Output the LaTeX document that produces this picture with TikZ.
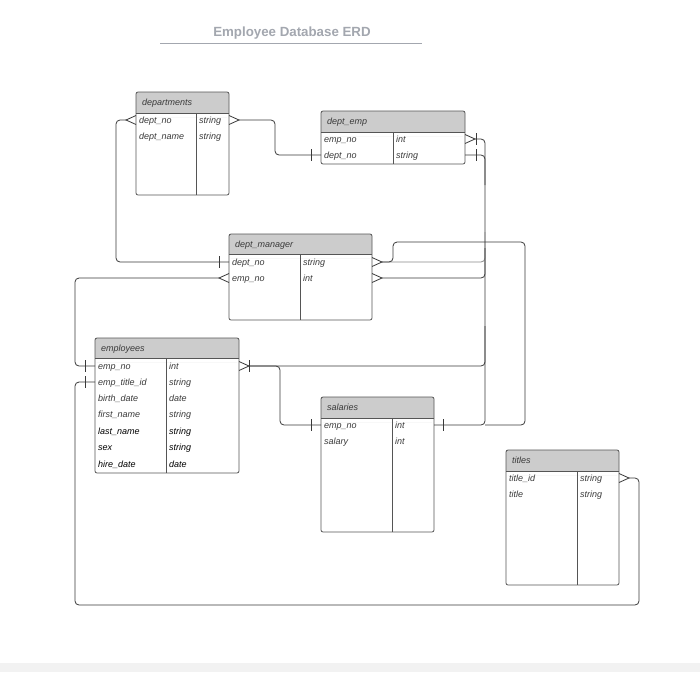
\documentclass[tikz,border=0pt]{standalone}
\usepackage{fontspec}
\setmainfont{Liberation Sans}
\usetikzlibrary{fit,calc}
\definecolor{hdr}{HTML}{CCCCCC}
\definecolor{bord}{HTML}{555555}
\definecolor{ink}{HTML}{3A3A3A}
\definecolor{ttl}{HTML}{A3A7AF}
\definecolor{lgray}{HTML}{8A8A8A}
\newcommand\erdtable[8]{%
  \fill[hdr, rounded corners=2pt] (#2,#3) rectangle (#4,{#6+4});
  \fill[white] (#2,#6) rectangle (#4,{#6+4});
  \node[tbl, fit={(#2,#3) (#4,#5)}] (#1) {};
  \draw[tline] (#2,#6) -- (#4,#6) (#7,#6) -- (#7,#5);
  \node[fld] (#1-h) at ({#2+6},{(#3+#6)/2}) {#8};
}
\newcommand\erdrow[8][fld]{%
  \node[#1] (#2-f#3) at ({#4+3},#6) {#7};
  \node[#1] (#2-t#3) at ({#5+3},#6) {#8};
}
\newcommand\crowR[1]{\draw[crowl] ($(#1)+(0,-4.5)$) -- ($(#1)+(10,0)$) -- ($(#1)+(0,4.5)$);}
\newcommand\crowL[1]{\draw[crowl] ($(#1)+(0,-4.5)$) -- ($(#1)+(-10,0)$) -- ($(#1)+(0,4.5)$);}
\newcommand\barV[2]{\draw[crowl] ($(#1)+(#2,-6)$) -- ($(#1)+(#2,6)$);}
\begin{document}
\begin{tikzpicture}[x=1pt,y=-1pt,
  tbl/.style={draw=bord, line width=0.8pt, rounded corners=2pt, inner sep=0pt, outer sep=0pt},
  tline/.style={draw=bord, line width=0.8pt},
  fld/.style={font=\fontsize{9}{10}\selectfont\itshape, text=ink, inner sep=0pt, anchor=west, text height=7.6pt, text depth=1pt},
  fldk/.style={fld, text=black},
  conn/.style={draw=ink, line width=0.8pt, rounded corners=4pt},
  connl/.style={conn, draw=lgray},
  crowl/.style={draw=ink, line width=0.8pt},
]
\useasboundingbox (0,0) rectangle (700,672);
\fill[white] (0,0) rectangle (700,672);
\fill[black!5] (0,663) rectangle (700,672);

% title
\node[font=\bfseries\fontsize{13.3}{15}\selectfont, text=ttl] (title) at (292,33) {Employee Database ERD};
\coordinate (tl) at (160,43);
\coordinate (tr) at (422,43);
\draw[ttl, line width=0.8pt] (tl) -- (tr);

% tables
\erdtable{departments}{136}{92}{229}{195}{113}{196}{departments}
\erdrow{departments}{1}{136}{196}{120}{dept\_no}{string}
\erdrow{departments}{2}{136}{196}{136}{dept\_name}{string}

\erdtable{deptemp}{321}{111}{465}{164}{132}{393}{dept\_emp}
\erdrow{deptemp}{1}{321}{393}{139}{emp\_no}{int}
\erdrow{deptemp}{2}{321}{393}{155}{dept\_no}{string}

\erdtable{deptmanager}{229}{234}{372}{320}{254}{300}{dept\_manager}
\erdrow{deptmanager}{1}{229}{300}{262}{dept\_no}{string}
\erdrow{deptmanager}{2}{229}{300}{278}{emp\_no}{int}

\erdtable{employees}{95}{338}{239}{473}{358}{166}{employees}
\erdrow{employees}{1}{95}{166}{366}{emp\_no}{int}
\erdrow{employees}{2}{95}{166}{382}{emp\_title\_id}{string}
\erdrow{employees}{3}{95}{166}{398}{birth\_date}{date}
\erdrow{employees}{4}{95}{166}{414}{first\_name}{string}
\erdrow[fldk]{employees}{5}{95}{166}{431}{last\_name}{string}
\erdrow[fldk]{employees}{6}{95}{166}{447}{sex}{string}
\erdrow[fldk]{employees}{7}{95}{166}{464}{hire\_date}{date}

\erdtable{salaries}{321}{397}{434}{532}{418}{392}{salaries}
\erdrow{salaries}{1}{321}{392}{425}{emp\_no}{int}
\erdrow{salaries}{2}{321}{392}{441}{salary}{int}

\erdtable{titles}{506}{450}{619}{585}{471}{577}{titles}
\erdrow{titles}{1}{506}{577}{478}{title\_id}{string}
\erdrow{titles}{2}{506}{577}{494}{title}{string}

% attachment points
\coordinate (dpR) at (departments.east |- 0,120);
\coordinate (dpL) at (departments.west |- 0,120);
\coordinate (deR1) at (deptemp.east |- 0,139);
\coordinate (deR2) at (deptemp.east |- 0,155);
\coordinate (deL2) at (deptemp.west |- 0,155);
\coordinate (dmL1) at (deptmanager.west |- 0,262);
\coordinate (dmL2) at (deptmanager.west |- 0,278);
\coordinate (dmR1) at (deptmanager.east |- 0,262);
\coordinate (dmR2) at (deptmanager.east |- 0,278);
\coordinate (emL1) at (employees.west |- 0,366);
\coordinate (emL2) at (employees.west |- 0,382);
\coordinate (emR1) at (employees.east |- 0,366);
\coordinate (saL1) at (salaries.west |- 0,425);
\coordinate (saR1) at (salaries.east |- 0,425);
\coordinate (tiR1) at (titles.east |- 0,478);
% routing columns / rows
\coordinate (colA) at (75,0);
\coordinate (colB) at (485,0);
\coordinate (colC) at (525,0);
\coordinate (colT) at (639,0);
\coordinate (bot) at (0,605);

% connectors
\draw[conn] ($(dpR)+(10,0)$) -- ($(dpR)+(46,0)$) |- (deL2);
\draw[conn] ($(dpL)+(-10,0)$) -- ($(dpL)+(-20,0)$) |- (dmL1);
\draw[conn] ($(dmL2)+(-10,0)$) -- (colA |- dmL2) |- (emL1);
\draw[conn] (emL2) -- (colA |- emL2) -- (colA |- bot) -- (colT |- bot) -- (colT |- tiR1) -- ($(tiR1)+(10,0)$);
\draw[conn] ($(emR1)+(10,0)$) -- ($(emR1)+(41,0)$) |- (saL1);
\draw[conn] ($(emR1)+(10,0)$) -- (colB |- emR1) -- ($(colB |- emR1)+(0,-40)$);
\draw[conn] ($(deR1)+(10,0)$) -- (colB |- deR1) -- (colB |- saR1) -- (saR1);
\draw[conn] (deR2) -- (colB |- deR2) -- ($(colB |- deR2)+(0,30)$);
\draw[connl] ($(dmR1)+(10,0)$) -- (colB |- dmR1) -- ($(colB |- dmR1)+(0,-30)$);
\draw[conn] ($(dmR2)+(10,0)$) -- (colB |- dmR2) -- ($(colB |- dmR2)+(0,-30)$);
\draw[conn] ($(dmR1)+(10,0)$) -- ($(dmR1)+(21,0)$) -- ($(dmR1)+(21,-20)$) -| (colC |- saR1) -- (colB |- saR1);

% crow's feet and bars
\crowR{dpR}
\crowL{dpL}
\barV{deL2}{-10}
\crowR{deR1}
\barV{deR1}{11}
\barV{deR2}{11}
\barV{dmL1}{-10}
\crowL{dmL2}
\crowR{dmR1}
\crowR{dmR2}
\barV{emL1}{-10}
\barV{emL2}{-10}
\crowR{emR1}
\barV{emR1}{10}
\barV{saL1}{-10}
\barV{saR1}{9}
\crowR{tiR1}
\end{tikzpicture}
\end{document}
